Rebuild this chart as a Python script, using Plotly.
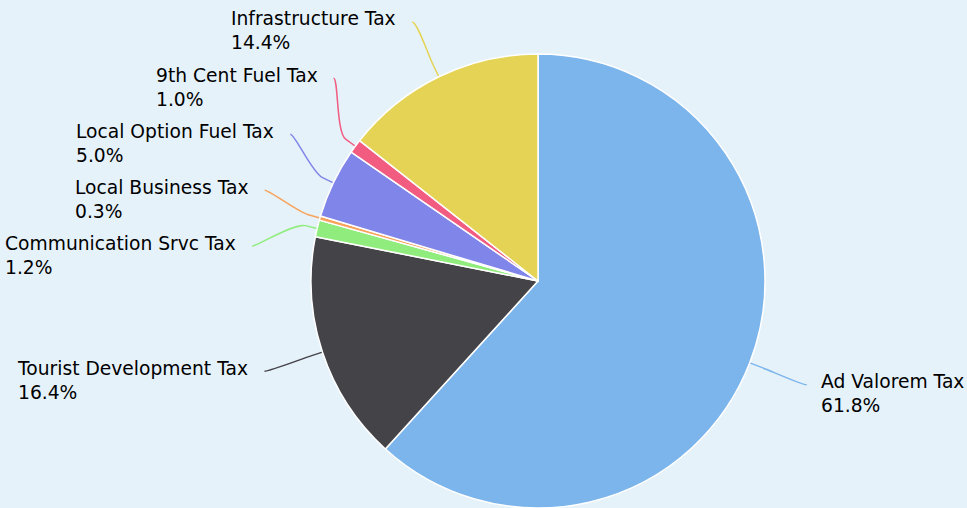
import math
import plotly.graph_objects as go

# Revenue share by tax source (percent of total)
labels = [
    "Ad Valorem Tax",
    "Tourist Development Tax",
    "Communication Srvc Tax",
    "Local Business Tax",
    "Local Option Fuel Tax",
    "9th Cent Fuel Tax",
    "Infrastructure Tax",
]
shares = [61.8, 16.4, 1.2, 0.3, 5.0, 1.0, 14.4]
colors = ["#7cb5ec", "#434348", "#90ed7d", "#f7a35c", "#8085e9", "#f15c80", "#e4d354"]

W, H = 967, 508
BG = "#e6f2fa"
CX, CY, R = 538, 281, 227          # pie centre / radius in pixels
LABEL_R = R + 61                   # radius where connectors meet labels
BREAK_R = R + 12                   # radius where connectors bend
GAP = 56                           # minimum vertical spacing between labels


def px(x):
    return x / W


def py(y):
    return 1 - y / H


def spread(ys, gap):
    """Push overlapping labels apart; each merged group is centred between its extreme targets."""
    order = sorted(range(len(ys)), key=lambda i: ys[i])
    groups = [[i] for i in order]

    def place(g):
        t = [ys[i] for i in g]
        c = (min(t) + max(t)) / 2
        return [c + (k - (len(g) - 1) / 2) * gap for k in range(len(g))]

    changed = True
    while changed:
        changed = False
        for j in range(len(groups) - 1):
            a, b = place(groups[j]), place(groups[j + 1])
            if b[0] - a[-1] < gap:
                groups[j] = groups[j] + groups[j + 1]
                del groups[j + 1]
                changed = True
                break
    out = [0.0] * len(ys)
    for g in groups:
        for i, y in zip(g, place(g)):
            out[i] = y
    return out


total = sum(shares)
mids, cum = [], 0.0
for v in shares:
    mids.append(2 * math.pi * (cum + v / 2) / total)
    cum += v

sides = ["right" if math.sin(a) > 0 else "left" for a in mids]
label_y = [0.0] * len(shares)
for side in ("left", "right"):
    idx = [i for i in range(len(shares)) if sides[i] == side]
    natural = [CY - LABEL_R * math.cos(mids[i]) for i in idx]
    for i, y in zip(idx, spread(natural, GAP)):
        label_y[i] = y

shapes, annotations = [], []
for i, (name, v, col) in enumerate(zip(labels, shares, colors)):
    a = mids[i]
    sx, sy = math.sin(a), -math.cos(a)
    tx, ty = CX + R * sx, CY + R * sy
    bx, by = CX + BREAK_R * sx, CY + BREAK_R * sy
    ly = label_y[i]
    dx = math.sqrt(max(LABEL_R ** 2 - (ly - CY) ** 2, 0))
    right = sides[i] == "right"
    lx = CX + dx if right else CX - dx
    c1x = lx - 5 if right else lx + 5
    c2x, c2y = 2 * bx - tx, 2 * by - ty
    path = (
        f"M {px(lx)} {py(ly)} "
        f"C {px(c1x)} {py(ly)}, {px(c2x)} {py(c2y)}, {px(bx)} {py(by)} "
        f"L {px(tx)} {py(ty)}"
    )
    shapes.append(dict(type="path", path=path, xref="paper", yref="paper",
                       line=dict(color=col, width=1.5), layer="below"))
    annotations.append(dict(
        text=f"{name}<br>{v:.1f}%",
        x=px(lx + 12 if right else lx - 14), y=py(ly + 9),
        xref="paper", yref="paper",
        xanchor="left" if right else "right", yanchor="middle",
        align="left", showarrow=False,
        font=dict(family="DejaVu Sans", size=18.7, color="#000000"),
    ))

fig = go.Figure(go.Pie(
    labels=labels,
    values=shares,
    sort=False,
    direction="clockwise",
    rotation=0,
    marker=dict(colors=colors, line=dict(color="white", width=1.5)),
    textinfo="none",
    hovertemplate="%{label}: %{value:.1f}%<extra></extra>",
    domain=dict(x=[px(CX - R), px(CX + R)], y=[py(CY + R), py(CY - R)]),
))

fig.update_layout(
    width=W, height=H,
    margin=dict(l=0, r=0, t=0, b=0),
    paper_bgcolor=BG, plot_bgcolor=BG,
    showlegend=False,
    shapes=shapes,
    annotations=annotations,
)

fig.write_html("out.html")
